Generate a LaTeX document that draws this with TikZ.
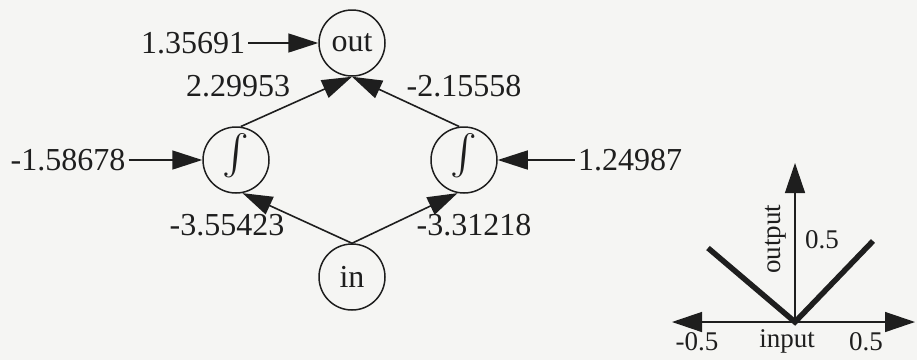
\documentclass[tikz,border=0pt]{standalone}
\usepackage{fontspec}
\setmainfont{Liberation Serif}
\usetikzlibrary{arrows.meta}
\definecolor{bg}{RGB}{245,245,243}
\definecolor{ink}{RGB}{30,30,30}
\begin{document}
\begin{tikzpicture}[x=1pt,y=-1pt,
  neuron/.style={circle, draw=ink, line width=1.5pt, minimum size=66pt, inner sep=0pt, text=ink, font=\fontsize{32}{32}\selectfont},
  lbl/.style={font=\fontsize{32}{32}\selectfont, text=ink, inner sep=3pt},
  edge/.style={draw=ink, line width=1.6pt, -{Triangle[length=30pt,width=19pt]}},
  axl/.style={font=\fontsize{27}{27}\selectfont, text=ink, inner sep=0pt},
  axis/.style={draw=ink, line width=1.4pt, -{Triangle[length=30pt,width=20pt]}}]
\fill[bg] (0,0) rectangle (917,360);
\useasboundingbox (0,0) rectangle (917,360);
% neurons
\node[neuron] (out) at (352,43) {out};
\node[neuron] (ls) at (236,160) {\raisebox{-21pt}[0pt][0pt]{\scalebox{4}{$\int$}}};
\node[neuron] (rs) at (464,160) {\raisebox{-21pt}[0pt][0pt]{\scalebox{4}{$\int$}}};
\node[neuron] (in) at (352,277) {in};
% bias inputs
\node[lbl] (w1) at (193,43) {1.35691};
\node[lbl] (bl) at (68,160) {-1.58678};
\node[lbl] (br) at (630,160) {1.24987};
\draw[edge] (w1) -- (out);
\draw[edge] (bl) -- (ls);
\draw[edge] (br) -- (rs);
% weights
\node[lbl] (a) at (238,86) {2.29953};
\node[lbl] (b) at (464,86) {-2.15558};
\node[lbl] (c) at (227,225) {-3.55423};
\node[lbl] (d) at (474,225) {-3.31218};
\draw[edge] (ls.82) -- (out.south);
\draw[edge] (rs.98) -- (out.south);
\draw[edge] (in.north) -- (ls.-79);
\draw[edge] (in.north) -- (rs.-101);
% activation plot
\coordinate (o) at (795,322);
\coordinate (xl) at (672,322);
\coordinate (xr) at (915,322);
\coordinate (yt) at (795,163);
\draw[axis] (o) -- (xl);
\draw[axis] (o) -- (xr);
\draw[axis] (o) -- (yt);
\coordinate (vl) at (708,248);
\coordinate (vr) at (873,241);
\draw[ink, line width=5.5pt, line join=miter] (vl) -- (o) -- (vr);
\node[axl] (m1) at (697,342) {-0.5};
\node[axl] (m2) at (787,341) {input};
\node[axl] (m3) at (866,342) {0.5};
\node[axl] (m4) at (822,240) {0.5};
\node[axl, rotate=90] (m5) at (776,239) {output};
\end{tikzpicture}
\end{document}
